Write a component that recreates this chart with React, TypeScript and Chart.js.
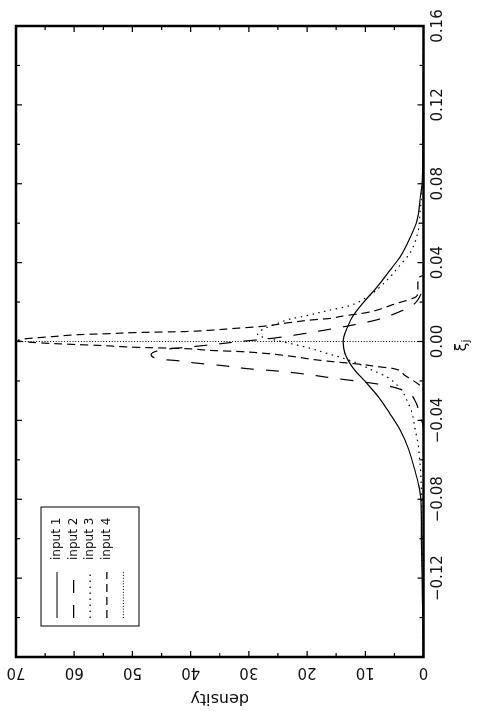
import React, { useEffect, useRef } from 'react';
import { Chart, registerables } from 'chart.js';

Chart.register(...registerables);

// axis ticks
const xiLabels = [-0.12, -0.08, -0.04, 0.0, 0.04, 0.08, 0.12, 0.16];
const xiMinor = [-0.14, -0.1, -0.06, -0.02, 0.02, 0.06, 0.1, 0.14];
const densityLabels = [0, 10, 20, 30, 40, 50, 60, 70];
const densityMinor = [5, 15, 25, 35, 45, 55, 65];

const legendLabels = ['input 1', 'input 2', 'input 3', 'input 4', ''];

// input 1 (solid)
const xi1 = [-0.16, -0.14, -0.12, -0.1, -0.08, -0.072, -0.062, -0.0535, -0.045, -0.0365, -0.029, -0.0213, -0.0134, -0.006, 0.0, 0.007, 0.013, 0.0195, 0.0276, 0.036, 0.043, 0.0527, 0.0616, 0.072, 0.08, 0.1, 0.12, 0.13, 0.16];
const dens1 = [0.05, 0.1, 0.25, 0.35, 0.45, 0.9, 1.8, 2.7, 4.0, 5.8, 7.5, 9.7, 12.1, 13.5, 13.8, 13.1, 12.1, 10.4, 8.0, 5.8, 4.0, 2.3, 1.1, 0.6, 0.26, 0.1, 0.05, 0.02, 0];

// input 2 (long dash)
const xi2 = [-0.16, -0.06, -0.045, -0.0416, -0.0385, -0.031, -0.0254, -0.0223, -0.0203, -0.0185, -0.0165, -0.015, -0.0139, -0.0122, -0.0109, -0.0096, -0.0091, -0.0066, -0.004, -0.003, -0.0015, 0.0, 0.0013, 0.0033, 0.0056, 0.0081, 0.011, 0.016, 0.0178, 0.025, 0.03, 0.16];
const dens2 = [0, 0, 0, 0.1, 0.6, 1.3, 3.0, 6.4, 10.9, 15.7, 20.4, 25.0, 29.8, 34.6, 39.2, 42.7, 44.9, 46.8, 44.4, 41, 36, 31.5, 26.9, 22, 17.3, 12.6, 8.0, 3.4, 2.1, 0.3, 0, 0];

// input 3 (dotted)
const xi3 = [-0.16, -0.14, -0.11, -0.09, -0.07, -0.062, -0.0517, -0.0436, -0.036, -0.03, -0.0238, -0.018, -0.0147, -0.011, -0.008, -0.006, -0.003, -0.001, 0.0005, 0.0035, 0.006, 0.009, 0.0114, 0.0127, 0.0147, 0.016, 0.0178, 0.0226, 0.031, 0.0388, 0.045, 0.0565, 0.065, 0.077, 0.09, 0.16];
const dens3 = [0.05, 0.1, 0.2, 0.3, 0.43, 0.6, 0.95, 1.5, 2.0, 2.8, 4.0, 6.3, 8.7, 11.4, 14.3, 16.6, 20, 22.9, 25.2, 28.5, 27.7, 25.2, 22.9, 20.7, 17.8, 16, 13.1, 9.7, 6.3, 4.0, 2.3, 0.9, 0.6, 0.25, 0.1, 0];

// input 4 (dashed)
const xi4 = [-0.16, -0.025, -0.0223, -0.0172, -0.0137, -0.0127, -0.0117, -0.0101, -0.0091, -0.0076, -0.0061, -0.0051, -0.0046, -0.0035, -0.003, -0.002, -0.0015, -0.0005, 0.0005, 0.0015, 0.0025, 0.0035, 0.004, 0.0046, 0.005, 0.0056, 0.0066, 0.0076, 0.0096, 0.011, 0.0117, 0.0127, 0.0147, 0.0188, 0.0233, 0.028, 0.032, 0.034, 0.16];
const dens4 = [0, 0, 0.6, 3.2, 5.2, 8.0, 10.4, 16, 19, 22.4, 26.9, 31.5, 36, 41.8, 48.7, 55.6, 60, 67, 69.7, 68, 63.6, 59, 53.9, 48.7, 41.5, 37.2, 32.7, 28, 23, 19, 16, 14.3, 9.7, 5.2, 1.1, 0.95, 0.95, 0, 0];

// reference line at xi = 0
const xi0 = [0, 0];
const dens0 = [0, 70];

const pts = (xs: number[], ys: number[]) => xs.map((x, i) => ({ x, y: ys[i] }));

const fmtXi = (v: number) => (v < 0 ? '\u2212' : '') + Math.abs(v).toFixed(2);

const framePlugin = {
  id: 'frame',
  afterDraw(chart: any) {
    const { ctx, chartArea: a } = chart;
    const x = chart.scales.x;
    const y = chart.scales.y;
    ctx.save();
    ctx.strokeStyle = '#000';
    ctx.fillStyle = '#111';
    ctx.setLineDash([]);

    // inward ticks on all four sides
    ctx.lineWidth = 1.2;
    const xTick = (v: number, len: number) => {
      const px = x.getPixelForValue(v);
      ctx.beginPath();
      ctx.moveTo(px, a.bottom);
      ctx.lineTo(px, a.bottom - len);
      ctx.moveTo(px, a.top);
      ctx.lineTo(px, a.top + len);
      ctx.stroke();
    };
    const yTick = (v: number, len: number) => {
      const py = y.getPixelForValue(v);
      ctx.beginPath();
      ctx.moveTo(a.left, py);
      ctx.lineTo(a.left + len, py);
      ctx.moveTo(a.right, py);
      ctx.lineTo(a.right - len, py);
      ctx.stroke();
    };
    xiLabels.forEach((v) => xTick(v, 6));
    xiMinor.forEach((v) => xTick(v, 4));
    densityLabels.forEach((v) => yTick(v, 6));
    densityMinor.forEach((v) => yTick(v, 4));

    ctx.lineWidth = 2.5;
    ctx.strokeRect(a.left, a.top, a.right - a.left, a.bottom - a.top);

    // tick labels
    ctx.font = '15px "DejaVu Sans"';
    ctx.textAlign = 'center';
    ctx.textBaseline = 'middle';
    xiLabels.forEach((v) => {
      ctx.fillText(fmtXi(v), x.getPixelForValue(v), a.bottom + 15);
    });
    densityLabels.forEach((v) => {
      ctx.save();
      ctx.translate(a.left - 15, y.getPixelForValue(v));
      ctx.rotate(-Math.PI / 2);
      ctx.fillText(String(v), 0, 0);
      ctx.restore();
    });

    // axis titles
    ctx.font = '16px "DejaVu Sans"';
    ctx.save();
    ctx.translate(a.left - 41, (a.top + a.bottom) / 2);
    ctx.rotate(-Math.PI / 2);
    ctx.fillText('density', 0, 0);
    ctx.restore();

    const cx = (a.left + a.right) / 2 - 4;
    ctx.textAlign = 'left';
    ctx.fillText('\u03be', cx - 6, a.bottom + 38);
    ctx.font = '11px "DejaVu Sans"';
    ctx.fillText('j', cx + 3, a.bottom + 43);

    // legend
    const bx = a.left + 31;
    const by = a.top + 25;
    ctx.lineWidth = 1;
    ctx.strokeRect(bx, by, 119, 98);
    ctx.font = '12px "DejaVu Sans"';
    chart.data.datasets.forEach((ds: any, i: number) => {
      const ry = by + 16 + i * 16.6;
      ctx.lineWidth = ds.borderWidth;
      ctx.setLineDash(ds.borderDash || []);
      ctx.beginPath();
      ctx.moveTo(bx + 8, ry);
      ctx.lineTo(bx + 54, ry);
      ctx.stroke();
      ctx.setLineDash([]);
      ctx.fillText(legendLabels[i], bx + 66, ry);
    });
    ctx.restore();
  },
};

const DensityChart = () => {
  const canvasRef = useRef<HTMLCanvasElement>(null);

  useEffect(() => {
    const line = { borderColor: '#000', borderWidth: 1.2, pointRadius: 0, fill: false, cubicInterpolationMode: 'monotone' as const };
    const chart = new Chart(canvasRef.current!, {
      type: 'line',
      data: {
        datasets: [
          { ...line, label: legendLabels[0], data: pts(xi1, dens1), borderDash: [] },
          { ...line, label: legendLabels[1], data: pts(xi2, dens2), borderDash: [13, 12] },
          { ...line, label: legendLabels[2], data: pts(xi3, dens3), borderDash: [1.5, 4.5] },
          { ...line, label: legendLabels[3], data: pts(xi4, dens4), borderDash: [8, 5] },
          { ...line, label: 'zero', data: pts(xi0, dens0), borderDash: [1, 1.8], borderWidth: 1, cubicInterpolationMode: 'default', tension: 0 },
        ],
      },
      options: {
        animation: false,
        responsive: false,
        layout: { padding: { left: 54, right: 26, top: 16, bottom: 59.5 } },
        scales: {
          x: { type: 'linear', min: -0.16, max: 0.16, display: false },
          y: { type: 'linear', min: 0, max: 70, display: false },
        },
        plugins: { legend: { display: false }, tooltip: { enabled: false } },
      },
      plugins: [framePlugin],
    });
    return () => chart.destroy();
  }, []);

  return <canvas ref={canvasRef} width={711} height={483} />;
};

export default function App() {
  return (
    <div style={{ position: 'fixed', left: 0, top: 0, width: 483, height: 711, overflow: 'hidden', background: '#fff' }}>
      <div
        style={{
          position: 'absolute',
          left: 0,
          top: 0,
          width: 711,
          height: 483,
          transformOrigin: '0 0',
          transform: 'translate(0px, 711px) rotate(-90deg)',
        }}
      >
        <DensityChart />
      </div>
    </div>
  );
}
